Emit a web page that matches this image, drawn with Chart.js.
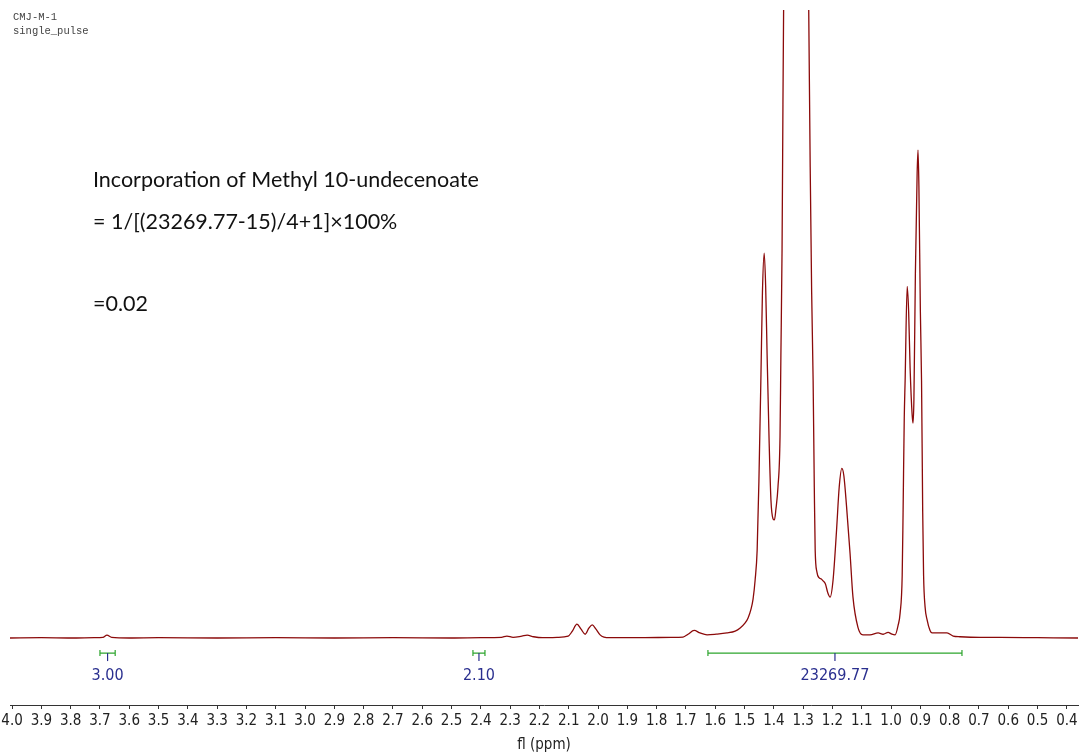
<!DOCTYPE html>
<html>
<head>
<meta charset="utf-8">
<title>CMJ-M-1 1H NMR</title>
<script src="https://cdn.jsdelivr.net/npm/chart.js@4.4.1/dist/chart.umd.min.js"></script>
<style>
    html, body { margin: 0; padding: 0; background: #fff; }
    #wrap { position: relative; width: 1080px; height: 756px; }
</style>
</head>
<body>
<div id="wrap">
    <canvas id="nmr-chart" width="1080" height="756"></canvas>
</div>
<script>
// chemical shift (ppm) and intensity, left to right
const shifts = [
    4.007, 3.90, 3.80, 3.72, 3.69, 3.676, 3.66, 3.60, 3.50, 3.30, 3.10, 2.90, 2.70, 2.50, 2.40,
    2.33, 2.311, 2.29, 2.26, 2.242, 2.22, 2.19, 2.14, 2.102, 2.089, 2.072, 2.058, 2.044, 2.031,
    2.020, 2.007, 1.993, 1.980, 1.959, 1.85, 1.75, 1.710, 1.693, 1.672, 1.652, 1.628, 1.597,
    1.560, 1.532, 1.515, 1.498, 1.488, 1.478, 1.471, 1.464, 1.457, 1.451, 1.444, 1.439, 1.433,
    1.428, 1.423, 1.416, 1.410, 1.403, 1.398, 1.393, 1.386, 1.379, 1.376, 1.372, 1.369, 1.366,
    1.360, 1.345, 1.325, 1.305, 1.290, 1.281, 1.276, 1.271, 1.266, 1.262, 1.259, 1.253, 1.246,
    1.238, 1.232, 1.224, 1.216, 1.208, 1.198, 1.186, 1.177, 1.168, 1.161, 1.152, 1.140, 1.130,
    1.113, 1.096, 1.072, 1.044, 1.027, 1.010, 0.997, 0.986, 0.976, 0.969, 0.962, 0.959, 0.955,
    0.952, 0.945, 0.940, 0.935, 0.928, 0.925, 0.922, 0.917, 0.911, 0.908, 0.905, 0.900, 0.896,
    0.892, 0.889, 0.884, 0.877, 0.867, 0.860, 0.833, 0.809, 0.788, 0.765, 0.696, 0.628, 0.50, 0.362
];
const intensity = [
    0, 0.05, 0, 0.05, 0.1, 0.45, 0.1, 0, 0.05, 0, 0.05, 0, 0.05, 0, 0.05,
    0.1, 0.3, 0.1, 0.3, 0.45, 0.2, 0.05, 0.1, 0.3, 1.0, 2.2, 1.4, 0.6, 1.6,
    2.1, 1.4, 0.5, 0.15, 0.05, 0.05, 0.1, 0.15, 0.6, 1.2, 0.8, 0.5, 0.6,
    0.8, 1.1, 1.6, 2.4, 3.2, 4.6, 6.2, 9.2, 14, 25, 42, 55, 61.3,
    56, 45, 31, 22, 19, 18.8, 20.5, 24, 32, 45, 62, 85, 105,
    140, 180, 170, 160, 140, 100, 75, 55, 41, 24, 14, 10.5, 9.6,
    9.4, 9.1, 8.6, 7.2, 6.5, 9.2, 17.2, 24, 27, 25.8, 21, 13.5, 6.5,
    1.7, 0.5, 0.5, 0.8, 0.6, 0.9, 0.6, 0.5, 2.0, 4.0, 10, 20, 35,
    41, 56, 52, 43, 35.5, 34.2, 38, 58, 74, 77.7, 72, 52, 41,
    20, 10, 5, 2.9, 1.2, 0.8, 0.8, 0.8, 0.3, 0.2, 0.1, 0.1, 0.05, 0
];

// integral regions
const integralFrom = [3.700, 2.427, 1.625];
const integralTo = [3.648, 2.386, 0.758];
const integralLabels = ['3.00', '2.10', '23269.77'];

const tickValues = [
    4.0, 3.9, 3.8, 3.7, 3.6, 3.5, 3.4, 3.3, 3.2, 3.1, 3.0, 2.9, 2.8, 2.7, 2.6, 2.5, 2.4, 2.3, 2.2,
    2.1, 2.0, 1.9, 1.8, 1.7, 1.6, 1.5, 1.4, 1.3, 1.2, 1.1, 1.0, 0.9, 0.8, 0.7, 0.6, 0.5, 0.4
];

const axisFont = "'Liberation Sans Narrow', 'DejaVu Sans Condensed', sans-serif";
const noteFont = "Lato, 'Open Sans', sans-serif";

const spectrumPoints = shifts.map((s, i) => ({ x: s, y: intensity[i] }));

const nmrDecor = {
    id: 'nmrDecor',
    afterDatasetsDraw(chart) {
        const ctx = chart.ctx;
        const xs = chart.scales.x;
        const ys = chart.scales.y;
        const yLine = ys.getPixelForValue(-2.4);

        ctx.save();
        integralFrom.forEach((from, i) => {
            const x1 = xs.getPixelForValue(from);
            const x2 = xs.getPixelForValue(integralTo[i]);
            const xm = (x1 + x2) / 2;

            ctx.strokeStyle = '#2ea52e';
            ctx.lineWidth = 1.2;
            ctx.beginPath();
            ctx.moveTo(x1, yLine);
            ctx.lineTo(x2, yLine);
            ctx.moveTo(x1, yLine - 3);
            ctx.lineTo(x1, yLine + 3);
            ctx.moveTo(x2, yLine - 3);
            ctx.lineTo(x2, yLine + 3);
            ctx.stroke();

            ctx.strokeStyle = '#2a2f8f';
            ctx.beginPath();
            ctx.moveTo(xm, yLine);
            ctx.lineTo(xm, yLine + 8);
            ctx.stroke();

            ctx.fillStyle = '#2a2f8f';
            ctx.font = '16px ' + axisFont;
            ctx.textAlign = 'center';
            ctx.textBaseline = 'middle';
            ctx.fillText(integralLabels[i], xm, yLine + 23);
        });
        ctx.restore();
    },
    afterDraw(chart) {
        const ctx = chart.ctx;
        ctx.save();
        ctx.fillStyle = '#444';
        ctx.font = "10.5px 'Liberation Mono', monospace";
        ctx.textAlign = 'left';
        ctx.textBaseline = 'middle';
        ctx.fillText('CMJ-M-1', 13, 17);
        ctx.fillText('single_pulse', 13, 31);

        ctx.fillStyle = '#111';
        ctx.font = '21.5px ' + noteFont;
        ctx.fillText('Incorporation of Methyl 10-undecenoate', 93, 180);
        ctx.fillText('= 1/[(23269.77-15)/4+1]\u00d7100%', 93, 222);
        ctx.fillText('=0.02', 93, 304);
        ctx.restore();
    }
};

const nmrChart = new Chart(document.getElementById('nmr-chart'), {
    type: 'line',
    data: {
        datasets: [{
            label: 'CMJ-M-1',
            data: spectrumPoints,
            borderColor: '#8b0a0a',
            borderWidth: 1.3,
            pointRadius: 0,
            fill: false,
            cubicInterpolationMode: 'monotone'
        }]
    },
    options: {
        responsive: false,
        animation: false,
        layout: { padding: { left: 10, right: 2, top: 10, bottom: 0 } },
        plugins: {
            legend: { display: false },
            tooltip: { enabled: false }
        },
        scales: {
            x: {
                type: 'linear',
                reverse: true,
                min: 0.362,
                max: 4.007,
                afterBuildTicks: scale => {
                    scale.ticks = tickValues.map(v => ({ value: v }));
                },
                afterFit: scale => {
                    scale.paddingLeft = 0;
                    scale.paddingRight = 0;
                    scale.height = 51;
                },
                grid: {
                    drawOnChartArea: false,
                    drawTicks: true,
                    tickLength: 4,
                    color: '#333'
                },
                border: { display: true, color: '#333', width: 1 },
                ticks: {
                    autoSkip: false,
                    maxRotation: 0,
                    padding: 3,
                    color: '#222',
                    font: { family: axisFont, size: 15 },
                    callback: v => v.toFixed(1)
                },
                title: {
                    display: true,
                    text: 'fl (ppm)',
                    color: '#222',
                    font: { family: axisFont, size: 15 },
                    padding: { top: 0, bottom: 2 }
                }
            },
            y: {
                display: false,
                min: -10.67,
                max: 100
            }
        }
    },
    plugins: [nmrDecor]
});
</script>
</body>
</html>
